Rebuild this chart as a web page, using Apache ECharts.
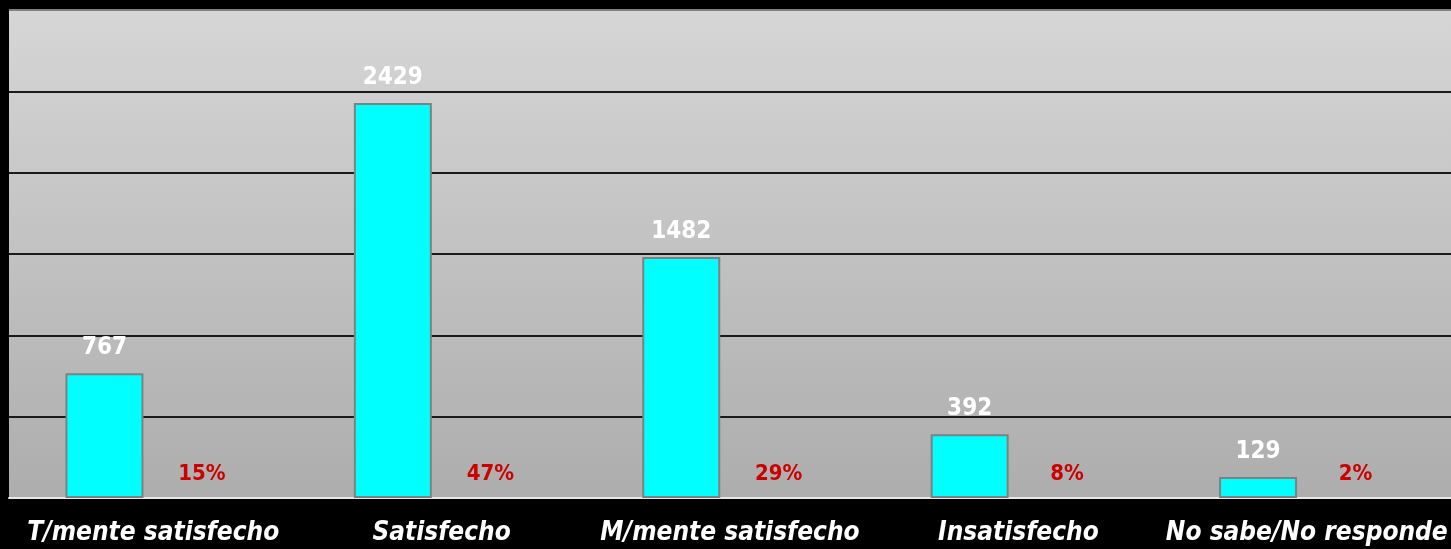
<!DOCTYPE html>
<html>
<head>
<meta charset="utf-8">
<style>
html,body{margin:0;padding:0;background:#000;}
#c{width:1451px;height:549px;}
</style>
<script src="https://cdn.jsdelivr.net/npm/echarts@6/dist/echarts.min.js"></script>
</head>
<body>
<div id="c"></div>
<script>
var categories = ['T/mente satisfecho', 'Satisfecho', 'M/mente satisfecho', 'Insatisfecho', 'No sabe/No responde'];
var counts = [767, 2429, 1482, 392, 129];
var percents = [15, 47, 29, 8, 2];
var yTicks = { min: 0, max: 3000, interval: 500 };

var FONT = "'DejaVu Sans Condensed', 'DejaVu Sans', sans-serif";
var chart = echarts.init(document.getElementById('c'));
chart.setOption({
  backgroundColor: '#000',
  animation: false,
  grid: {
    left: 9, right: 0, top: 10, bottom: 51,
    show: true,
    borderWidth: 0,
    backgroundColor: new echarts.graphic.LinearGradient(0, 0, 0, 1, [
      { offset: 0, color: '#d6d6d6' },
      { offset: 1, color: '#adadad' }
    ])
  },
  xAxis: {
    type: 'category',
    data: categories,
    axisTick: { show: false },
    axisLine: { show: true, lineStyle: { color: '#e8e8e8', width: 2 } },
    axisLabel: {
      color: '#fff', fontFamily: FONT, fontStyle: 'italic', fontWeight: 'bold',
      fontSize: 26, margin: 22, interval: 0
    }
  },
  yAxis: {
    type: 'value',
    min: yTicks.min, max: yTicks.max, interval: yTicks.interval,
    axisLabel: { show: false },
    axisLine: { show: false },
    axisTick: { show: false },
    splitLine: { show: true, lineStyle: { color: '#1a1a1a', width: 2 } }
  },
  series: [
    {
      type: 'bar',
      data: counts,
      barWidth: 78,
      barGap: '25%',
      itemStyle: { color: '#00ffff', borderColor: '#808080', borderWidth: 2 },
      label: {
        show: true, position: 'top', distance: 13,
        color: '#fff', fontFamily: FONT, fontWeight: 'bold', fontSize: 24
      }
    },
    {
      type: 'bar',
      data: percents.map(function (p) { return p / 100; }),
      barWidth: 78,
      itemStyle: { color: 'rgba(0,0,0,0)' },
      label: {
        show: true, position: 'top', distance: 13,
        color: '#cc0000', fontFamily: FONT, fontWeight: 'bold', fontSize: 22,
        formatter: function (p) { return percents[p.dataIndex] + '%'; }
      }
    }
  ],
  graphic: [
    { type: 'rect', left: 9, top: 9, shape: { width: 1442, height: 2 }, style: { fill: '#808080' }, z: 100 }
  ]
});
</script>
</body>
</html>
